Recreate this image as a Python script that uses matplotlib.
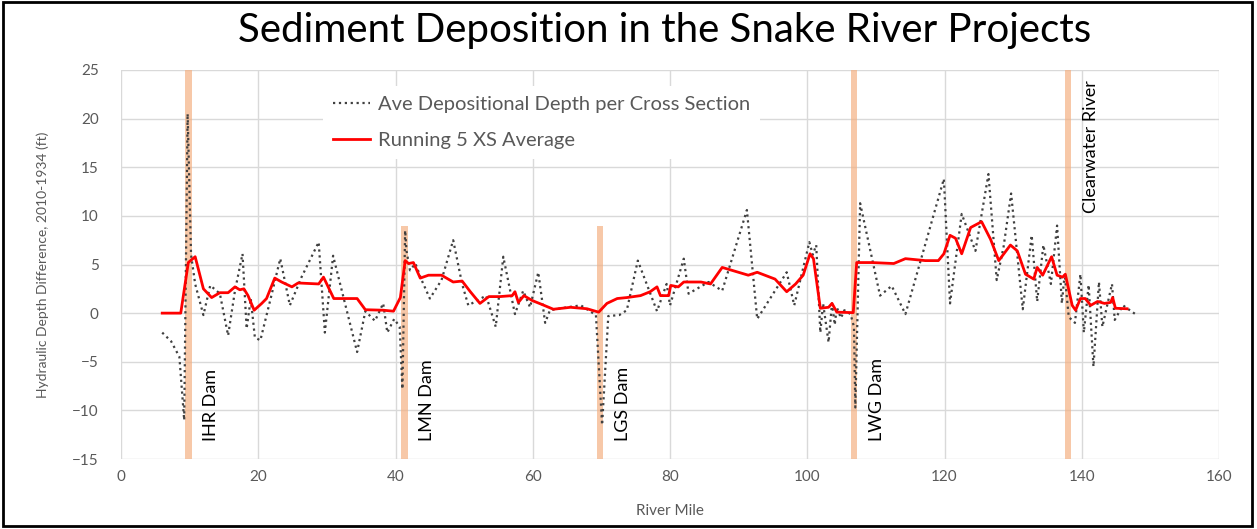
import matplotlib
matplotlib.use("Agg")
import matplotlib.pyplot as plt
from matplotlib.patches import Rectangle
from matplotlib.lines import Line2D

plt.rcParams['font.family'] = ['Lato', 'DejaVu Sans']

# raw depth difference per cross section (dotted series)
raw_mile = [6.0, 7.3, 8.5, 9.2, 9.7, 10.2, 10.8, 12.0, 13.0, 14.4, 15.6, 16.6, 17.7, 18.3,
            18.9, 19.5, 20.3, 21.8, 23.2, 24.6, 26.3, 28.8, 29.7, 30.9, 34.4, 35.6, 37.0,
            38.2, 38.8, 39.8, 40.6, 41.0, 41.4, 41.6, 42.1, 42.9, 43.8, 45.0, 46.7, 48.4,
            49.7, 50.6, 53.2, 54.6, 55.7, 57.4, 58.6, 59.6, 60.8, 61.8, 62.5, 65.0, 67.0,
            69.2, 70.1, 71.0, 72.6, 73.7, 75.3, 78.1, 79.5, 80.0, 82.0, 82.7, 85.6, 87.6,
            91.2, 92.7, 97.0, 98.1, 100.3, 100.8, 101.3, 101.9, 102.3, 102.7, 103.1, 103.6,
            104.0, 104.3, 104.9, 105.4, 106.3, 106.8, 107.0, 107.7, 110.6, 112.3, 114.3,
            119.9, 120.8, 122.5, 124.5, 126.4, 127.6, 128.6, 129.7, 131.4, 132.7, 133.5,
            134.4, 135.5, 136.4, 137.1, 137.5, 138.1, 139.0, 139.8, 140.3, 141.0, 141.7,
            142.5, 143.0, 144.4, 144.8, 146.0, 147.8]
raw_depth = [-2.0, -2.9, -4.5, -11.0, 20.5, 6.0, 3.0, -0.2, 2.85, 2.0, -2.3, 2.3, 6.1, -1.6,
             1.5, -2.5, -2.8, 1.5, 5.6, 0.8, 3.7, 7.3, -2.0, 5.9, -4.0, 0.2, -0.8,
             1.0, -2.0, -0.6, -1.4, -7.8, 8.5, 6.4, 4.4, 5.1, 3.4, 1.5, 3.4, 7.5,
             3.0, 0.8, 1.8, -1.4, 5.8, -0.1, 2.3, 0.6, 4.2, -1.0, 0.3, 0.6, 0.8,
             -0.2, -11.5, -0.3, -0.2, 0.3, 5.4, 0.2, 3.0, 0.8, 5.6, 2.0, 3.2, 2.3,
             10.6, -0.6, 4.2, 0.8, 7.3, 6.0, 7.0, -2.0, 1.0, -1.0, -3.0, 1.0,
             -1.2, 0.6, -0.5, 0.3, -0.1, -1.4, -9.7, 11.3, 1.8, 2.8, -0.1,
             13.8, 1.0, 10.2, 6.4, 14.3, 3.4, 6.8, 12.3, 0.4, 8.0, 1.2,
             7.0, 3.0, 9.0, 1.0, 4.0, -0.4, -1.0, 4.0, -2.0, 2.9, -5.5,
             3.2, -1.4, 3.0, -0.7, 0.8, -0.1]

# running 5 cross-section average (red series)
avg_mile = [6.0, 8.7, 9.8, 10.8, 12.0, 13.2, 14.4, 15.6, 16.6, 17.3, 17.9, 18.5, 19.4, 20.5,
            21.2, 22.4, 23.4, 24.9, 25.8, 28.8, 29.5, 31.0, 34.4, 35.6, 38.2, 39.7, 40.7,
            41.4, 41.9, 42.6, 43.6, 44.8, 46.7, 48.4, 49.7, 50.9, 52.3, 53.6, 55.2, 57.0,
            57.4, 57.9, 58.7, 59.9, 61.3, 63.0, 65.5, 67.9, 69.6, 70.8, 72.3, 73.7, 75.7,
            77.1, 78.1, 78.6, 79.8, 80.1, 81.2, 82.0, 84.5, 85.9, 87.6, 91.4, 92.7, 95.3,
            97.0, 98.3, 99.4, 100.4, 100.9, 101.9, 103.1, 103.6, 104.3, 106.7, 107.2,
            109.4, 112.6, 114.3, 117.2, 119.1, 119.9, 120.8, 121.6, 122.5, 123.8, 125.4,
            126.7, 127.9, 129.6, 130.6, 131.8, 133.0, 133.5, 134.3, 135.6, 136.4, 137.2,
            137.6, 138.6, 139.1, 139.8, 140.5, 141.3, 142.3, 143.3, 144.2, 144.5, 144.9,
            146.6]
avg_depth = [0.0, 0.0, 5.2, 5.8, 2.5, 1.6, 2.1, 2.1, 2.7, 2.4, 2.5, 1.8, 0.3, 1.0,
             1.5, 3.6, 3.2, 2.7, 3.1, 3.0, 3.7, 1.5, 1.5, 0.35, 0.3, 0.2, 1.6,
             5.4, 5.1, 5.2, 3.6, 3.9, 3.9, 3.2, 3.3, 2.2, 1.0, 1.7, 1.7, 1.8,
             2.2, 1.1, 1.8, 1.3, 0.9, 0.4, 0.6, 0.45, 0.1, 1.0, 1.5, 1.6, 1.8,
             2.2, 2.7, 1.8, 1.8, 2.85, 2.7, 3.2, 3.2, 3.0, 4.7, 3.9, 4.2, 3.5,
             2.2, 3.0, 3.9, 6.1, 5.6, 0.5, 0.6, 1.0, 0.1, 0.05, 5.2,
             5.2, 5.1, 5.6, 5.4, 5.4, 6.1, 8.0, 7.7, 6.1, 8.8, 9.4,
             7.6, 5.4, 7.0, 6.4, 4.0, 3.5, 4.7, 3.9, 5.8, 3.9, 3.7,
             4.0, 0.8, 0.3, 1.5, 1.5, 0.8, 1.2, 1.0, 1.1, 1.6, 0.5,
             0.45]

# dam / confluence markers
dam_names = ['IHR Dam', 'LMN Dam', 'LGS Dam', 'LWG Dam', 'Clearwater River']
dam_mile = [9.8, 41.3, 69.8, 106.8, 138.0]
dam_top = [25, 9, 9, 25, 25]

fig = plt.figure(figsize=(12.57, 5.29), dpi=100)
ax = fig.add_axes([0.0963, 0.1323, 0.8735, 0.7354])

# orange bands for the dams
ax.bar(dam_mile, [t + 15 for t in dam_top], bottom=-15, width=0.95,
       color='#F4B183', alpha=0.7, zorder=2)

ax.plot(raw_mile, raw_depth, ls=':', color='#404040', lw=1.6, zorder=3)
ax.plot(avg_mile, avg_depth, ls='-', color='#FF0000', lw=2.0, zorder=4)

# labels next to dams
for name, m in zip(dam_names[:4], dam_mile[:4]):
    ax.text(m + 3.3, -13.1, name, rotation=90, ha='center', va='bottom',
            fontsize=13, color='black', zorder=5)
ax.text(dam_mile[4] + 3.3, 24.0, dam_names[4], rotation=90, ha='center', va='top',
        fontsize=13, color='black', zorder=5)

ax.set_xlim(0, 160)
ax.set_ylim(-15, 25)
ax.set_xticks(range(0, 161, 20))
ax.set_yticks(range(-15, 26, 5))
ax.grid(True, color='#D9D9D9', lw=1)
ax.set_axisbelow(True)
for s in ax.spines.values():
    s.set_visible(False)
ax.tick_params(length=0, labelsize=11, labelcolor='#595959')
ax.tick_params(axis='x', pad=8)
ax.tick_params(axis='y', pad=16)

ax.set_xlabel('River Mile', fontsize=11, color='#595959', labelpad=14)
ax.set_ylabel('Hydraulic Depth Difference, 2010-1934 (ft)', fontsize=10,
              color='#595959', labelpad=17)

handles = [Line2D([], [], ls=':', color='#404040', lw=1.6),
           Line2D([], [], ls='-', color='#FF0000', lw=2.0)]
leg = ax.legend(handles, ['Ave Depositional Depth per Cross Section', 'Running 5 XS Average'],
                loc='upper left', bbox_to_anchor=(0.175, 0.985), fontsize=14.5,
                frameon=True, facecolor='white', edgecolor='none', framealpha=1,
                labelspacing=0.95, handletextpad=0.4, handlelength=1.8, borderpad=0.5)
for t in leg.get_texts():
    t.set_color('#595959')

fig.text(0.529, 0.943, 'Sediment Deposition in the Snake River Projects',
         ha='center', va='center', fontsize=29, color='black')

fig.patches.append(Rectangle((0.002, 0.006), 0.994, 0.99, transform=fig.transFigure,
                             fill=False, edgecolor='black', lw=2))

fig.savefig('out.png', dpi=100)
